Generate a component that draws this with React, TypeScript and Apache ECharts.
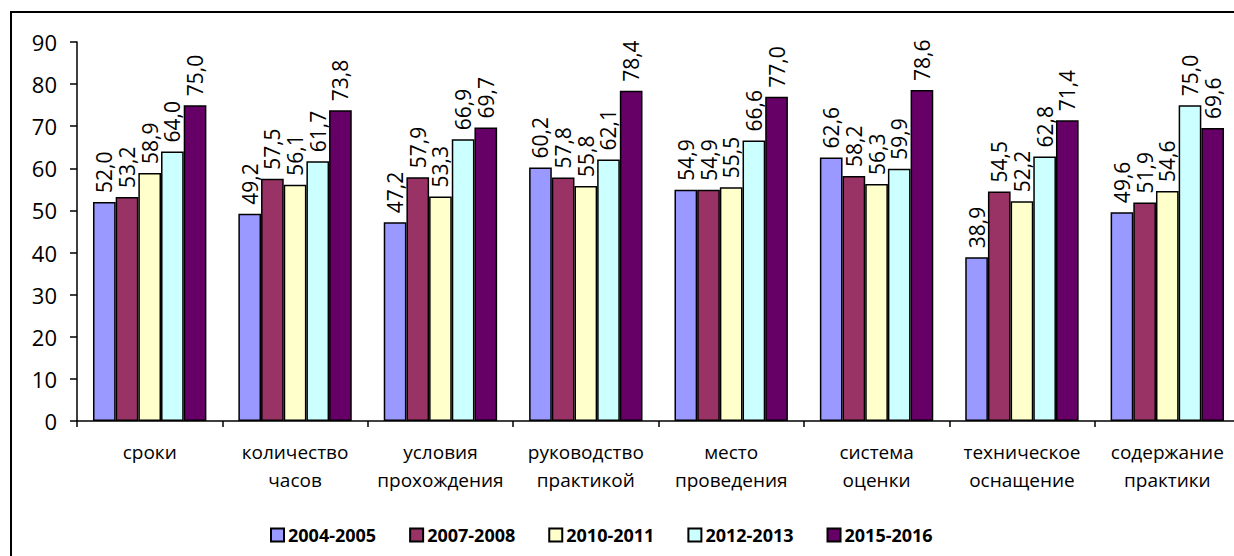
import React, { useEffect, useRef } from "react";
import * as echarts from "echarts";

const categories = [
  "сроки",
  "количество\nчасов",
  "условия\nпрохождения",
  "руководство\nпрактикой",
  "место\nпроведения",
  "система\nоценки",
  "техническое\nоснащение",
  "содержание\nпрактики",
];

const seriesNames = ["2004-2005", "2007-2008", "2010-2011", "2012-2013", "2015-2016"];
const s2004 = [52.0, 49.2, 47.2, 60.2, 54.9, 62.6, 38.9, 49.6];
const s2007 = [53.2, 57.5, 57.9, 57.8, 54.9, 58.2, 54.5, 51.9];
const s2010 = [58.9, 56.1, 53.3, 55.8, 55.5, 56.3, 52.2, 54.6];
const s2012 = [64.0, 61.7, 66.9, 62.1, 66.6, 59.9, 62.8, 75.0];
const s2015 = [75.0, 73.8, 69.7, 78.4, 77.0, 78.6, 71.4, 69.6];
const seriesValues = [s2004, s2007, s2010, s2012, s2015];
const colors = ["#9999FF", "#993366", "#FFFFCC", "#CCFFFF", "#660066"];

const FONT = "Open Sans";

export default function App() {
  const ref = useRef<HTMLDivElement>(null);
  useEffect(() => {
    if (!ref.current) return;
    const chart = echarts.init(ref.current, undefined, { renderer: "svg" });
    chart.setOption({
      animation: false,
      backgroundColor: "#ffffff",
      textStyle: { fontFamily: FONT, color: "#000" },
      graphic: [
        {
          type: "rect",
          shape: { x: 11, y: 12, width: 1400, height: 700 },
          style: { fill: "none", stroke: "#000", lineWidth: 2 },
          silent: true,
        },
      ],
      grid: { left: 77, right: 10, top: 42, bottom: 149, containLabel: false },
      legend: {
        left: 265,
        top: 521,
        itemWidth: 13,
        itemHeight: 13,
        itemGap: 33,
        icon: "rect",
        textStyle: { fontFamily: FONT, fontSize: 18, fontWeight: "bold", color: "#000", padding: [0, 0, 0, -1] },
        data: seriesNames,
      },
      xAxis: {
        type: "category",
        data: categories,
        axisLine: { lineStyle: { color: "#000", width: 1.5 } },
        axisTick: { show: true, length: 6, lineStyle: { color: "#000", width: 1.5 } },
        axisLabel: { interval: 0, fontSize: 19, lineHeight: 28, margin: 17, color: "#000", fontFamily: FONT },
      },
      yAxis: {
        type: "value",
        min: 0,
        max: 90,
        interval: 10,
        splitLine: { show: false },
        axisLine: { show: true, lineStyle: { color: "#000", width: 1.5 } },
        axisTick: { show: true, length: 7, lineStyle: { color: "#000", width: 1.5 } },
        axisLabel: { fontSize: 22, margin: 20, color: "#000", fontFamily: FONT },
      },
      series: seriesNames.map((name, i) => ({
        name,
        type: "bar",
        data: seriesValues[i],
        barGap: "0%",
        barCategoryGap: "22%",
        itemStyle: { color: colors[i], borderColor: "#000", borderWidth: 1.5 },
        label: {
          show: true,
          position: "top",
          rotate: 90,
          align: "left",
          verticalAlign: "middle",
          distance: 9,
          fontSize: 21,
          fontFamily: FONT,
          color: "#000",
          formatter: (p: any) => p.value.toFixed(1).replace(".", ","),
        },
      })),
    });
    return () => chart.dispose();
  }, []);
  return (
    <div style={{ position: "fixed", left: 0, top: 0, width: 1234, height: 556, overflow: "hidden", background: "#fff" }}>
      <div ref={ref} style={{ width: 1250, height: 570 }} />
    </div>
  );
}
